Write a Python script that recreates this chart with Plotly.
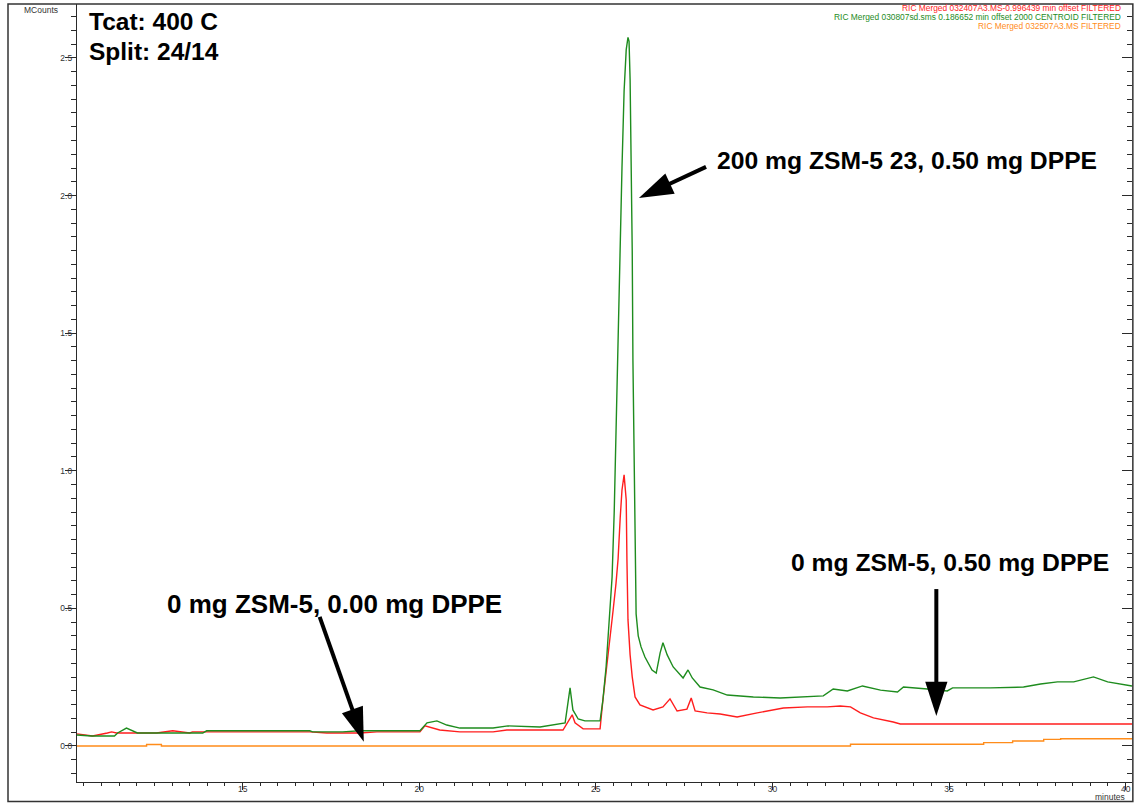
import math
import plotly.graph_objects as go

# Retention time (minutes) and intensity (MCounts) for each run
green_t = [10.31, 10.72, 11.37, 11.46, 11.71, 12.02, 12.56, 13.87, 13.98, 15.48,
           16.90, 16.98, 17.83, 18.32, 19.25, 20.02, 20.22, 20.50, 20.78, 21.15,
           22.09, 22.51, 23.42, 23.79, 24.13, 24.27, 24.35, 24.50, 24.69, 25.12,
           25.20, 25.29, 25.37, 25.46, 25.52, 25.57, 25.63, 25.69, 25.74, 25.80,
           25.86, 25.91, 25.94, 25.97, 26.00, 26.03, 26.05, 26.08, 26.11, 26.14,
           26.20, 26.28, 26.39, 26.59, 26.71, 26.82, 26.90, 27.02, 27.19, 27.47,
           27.61, 27.73, 27.95, 28.32, 28.72, 29.00, 29.46, 30.22, 31.44, 31.72,
           32.12, 32.55, 33.06, 33.54, 33.71, 34.39, 34.95, 35.10, 36.17, 37.11,
           37.59, 38.07, 38.53, 39.09, 39.49, 40.18]
green_i = [0.040, 0.036, 0.036, 0.047, 0.065, 0.047, 0.047, 0.047, 0.055, 0.055,
           0.055, 0.051, 0.051, 0.055, 0.055, 0.055, 0.084, 0.091, 0.076, 0.065,
           0.065, 0.073, 0.069, 0.076, 0.084, 0.211, 0.131, 0.098, 0.091, 0.091,
           0.167, 0.287, 0.432, 0.614, 0.850, 1.150, 1.450, 1.780, 2.100, 2.380,
           2.530, 2.575, 2.560, 2.420, 2.150, 1.800, 1.400, 1.000, 0.700, 0.480,
           0.400, 0.360, 0.323, 0.276, 0.265, 0.338, 0.375, 0.331, 0.287, 0.247,
           0.276, 0.247, 0.214, 0.204, 0.185, 0.182, 0.178, 0.174, 0.182, 0.207,
           0.200, 0.218, 0.203, 0.196, 0.214, 0.207, 0.200, 0.211, 0.211, 0.214,
           0.225, 0.233, 0.233, 0.251, 0.233, 0.218]

red_t = [10.31, 10.75, 11.17, 11.29, 11.43, 12.56, 13.02, 13.50, 13.58, 15.28,
         15.85, 16.90, 17.38, 18.32, 18.80, 20.02, 20.16, 20.58, 21.15, 22.09,
         22.48, 23.42, 24.07, 24.33, 24.41, 24.64, 25.12, 25.20, 25.32, 25.49,
         25.57, 25.63, 25.69, 25.74, 25.80, 25.86, 25.88, 25.91, 25.97, 26.03,
         26.11, 26.25, 26.62, 26.90, 27.10, 27.30, 27.58, 27.70, 27.81, 28.15,
         28.52, 29.00, 29.57, 30.31, 30.99, 31.55, 31.92, 32.21, 32.49, 32.86,
         33.42, 33.62, 34.76, 40.18]
red_i = [0.044, 0.036, 0.047, 0.051, 0.047, 0.047, 0.055, 0.047, 0.051, 0.051,
         0.051, 0.051, 0.047, 0.047, 0.051, 0.051, 0.073, 0.058, 0.051, 0.051,
         0.058, 0.058, 0.058, 0.113, 0.084, 0.062, 0.062, 0.167, 0.313, 0.494,
         0.590, 0.680, 0.830, 0.930, 0.985, 0.894, 0.676, 0.458, 0.331, 0.251,
         0.178, 0.149, 0.131, 0.142, 0.171, 0.127, 0.134, 0.174, 0.127, 0.120,
         0.116, 0.105, 0.120, 0.138, 0.142, 0.142, 0.145, 0.142, 0.120, 0.102,
         0.087, 0.080, 0.080, 0.080]

orange_t = [10.31, 12.28, 12.70, 32.21, 35.98, 36.80, 37.68, 38.16, 40.18]
orange_i = [0.000, 0.005, 0.000, 0.006, 0.012, 0.018, 0.024, 0.026, 0.027]

trace_names = [
    "RIC Merged 032407A3.MS-0.996439 min offset FILTERED",
    "RIC Merged 030807sd.sms 0.186652 min offset 2000 CENTROID FILTERED",
    "RIC Merged 032507A3.MS FILTERED",
]
trace_colors = ["#ff1e1e", "#1e8c1e", "#ff8c1a"]

# Callout labels: (text, x, y, font size) with left edge at x
callouts = [
    ("Tcat: 400 C", 10.60, 2.631, 24.5),
    ("Split: 24/14", 10.60, 2.522, 24.5),
    ("200 mg ZSM-5 23, 0.50 mg DPPE", 28.38, 2.129, 24.7),
    ("0 mg ZSM-5, 0.50 mg DPPE", 30.48, 0.665, 24.7),
    ("0 mg ZSM-5, 0.00 mg DPPE", 12.80, 0.516, 26),
]
# Arrows: (tail x, tail y, tip x, tip y)
arrows = [
    (28.12, 2.104, 26.22, 1.991),
    (17.18, 0.469, 18.43, 0.015),
    (34.64, 0.570, 34.64, 0.109),
]

X_RANGE = [10.31, 40.18]
Y_RANGE = [-0.131, 2.696]
W, H = 1135, 803
M_L, M_R, M_T, M_B = 77, 3, 4, 21
PLOT_W = W - M_L - M_R
PLOT_H = H - M_T - M_B
SX = PLOT_W / (X_RANGE[1] - X_RANGE[0])
SY = PLOT_H / (Y_RANGE[1] - Y_RANGE[0])

FONT = "Liberation Sans, Arial, sans-serif"
AXIS_COL = "#2a2a2a"
TICK_FONT = dict(family=FONT, size=8.5, color="#333")

fig = go.Figure()

fig.add_trace(go.Scatter(x=red_t, y=red_i, mode="lines", name=trace_names[0],
                         line=dict(color=trace_colors[0], width=1.4)))
fig.add_trace(go.Scatter(x=green_t, y=green_i, mode="lines", name=trace_names[1],
                         line=dict(color=trace_colors[1], width=1.4)))
# orange run lives on the mirrored right-hand axis (same range)
fig.add_trace(go.Scatter(x=orange_t, y=orange_i, mode="lines", name=trace_names[2],
                         yaxis="y2",
                         line=dict(color=trace_colors[2], width=1.4, shape="hv")))

# arrows: thick shaft plus an arrow marker at the tip
for tx, ty, hx, hy in arrows:
    dx = (hx - tx) * SX
    dy = -(hy - ty) * SY
    length = math.hypot(dx, dy)
    frac = 1 - 18 / length
    ex = tx + (hx - tx) * frac
    ey = ty + (hy - ty) * frac
    angle = math.degrees(math.atan2(dx, -dy))
    fig.add_trace(go.Scatter(x=[tx, ex], y=[ty, ey], mode="lines",
                             line=dict(color="black", width=4),
                             hoverinfo="skip", showlegend=False))
    fig.add_trace(go.Scatter(x=[hx], y=[hy], mode="markers",
                             marker=dict(symbol="arrow", size=36, angle=angle,
                                         color="black", line=dict(width=0)),
                             hoverinfo="skip", showlegend=False))

for text, x, y, size in callouts:
    fig.add_annotation(x=x, y=y, xref="x", yref="y", text="<b>%s</b>" % text,
                       showarrow=False, xanchor="left", yanchor="middle",
                       font=dict(family=FONT, size=size, color="black"))

# run names listed in the upper right corner
for k, (name, col) in enumerate(zip(trace_names, trace_colors)):
    fig.add_annotation(x=0.9915, y=0.9949 - k * 0.0116, xref="paper", yref="paper",
                       text=name, showarrow=False, xanchor="right", yanchor="middle",
                       font=dict(family=FONT, size=8.4, color=col))

fig.add_annotation(x=-0.0345, y=0.992, xref="paper", yref="paper", text="MCounts",
                   showarrow=False, xanchor="center", yanchor="middle",
                   font=dict(family=FONT, size=8.5, color="#333"))
fig.add_annotation(x=0.9795, y=-0.019, xref="paper", yref="paper", text="minutes",
                   showarrow=False, xanchor="center", yanchor="middle",
                   font=dict(family=FONT, size=8.5, color="#333"))

# outer frame
fig.add_shape(type="rect", xref="paper", yref="paper",
              x0=(8 - M_L) / PLOT_W, x1=1.0008, y0=-19.5 / PLOT_H, y1=1.0,
              line=dict(color="#333", width=1.5), fillcolor="rgba(0,0,0,0)")

fig.update_layout(
    width=W, height=H,
    margin=dict(l=M_L, r=M_R, t=M_T, b=M_B),
    paper_bgcolor="white", plot_bgcolor="white",
    showlegend=False,
    xaxis=dict(range=X_RANGE, showgrid=False, zeroline=False,
               showline=True, linecolor=AXIS_COL, linewidth=1.3,
               tickmode="linear", tick0=0, dtick=5,
               ticks="outside", ticklen=7, tickwidth=1, tickcolor=AXIS_COL,
               ticklabelstandoff=-8, tickfont=TICK_FONT,
               minor=dict(dtick=0.5, ticks="outside",
                          ticklen=3, tickwidth=1, tickcolor=AXIS_COL)),
    yaxis=dict(range=Y_RANGE, showgrid=False, zeroline=False,
               showline=True, linecolor=AXIS_COL, linewidth=1.3,
               tickmode="linear", tick0=0, dtick=0.5, tickformat=".1f",
               ticks="outside", ticklen=11, tickwidth=1, tickcolor=AXIS_COL,
               ticklabelstandoff=-9, tickfont=TICK_FONT,
               minor=dict(dtick=0.05, ticks="outside",
                          ticklen=5, tickwidth=1, tickcolor=AXIS_COL)),
    yaxis2=dict(range=Y_RANGE, overlaying="y", side="right", showgrid=False,
                zeroline=False, showline=False, showticklabels=False,
                tickmode="linear", tick0=0, dtick=0.5,
                ticks="inside", ticklen=10, tickwidth=1, tickcolor=AXIS_COL,
                minor=dict(dtick=0.05, ticks="inside",
                           ticklen=5, tickwidth=1, tickcolor=AXIS_COL)),
)

fig.write_html("out.html")
